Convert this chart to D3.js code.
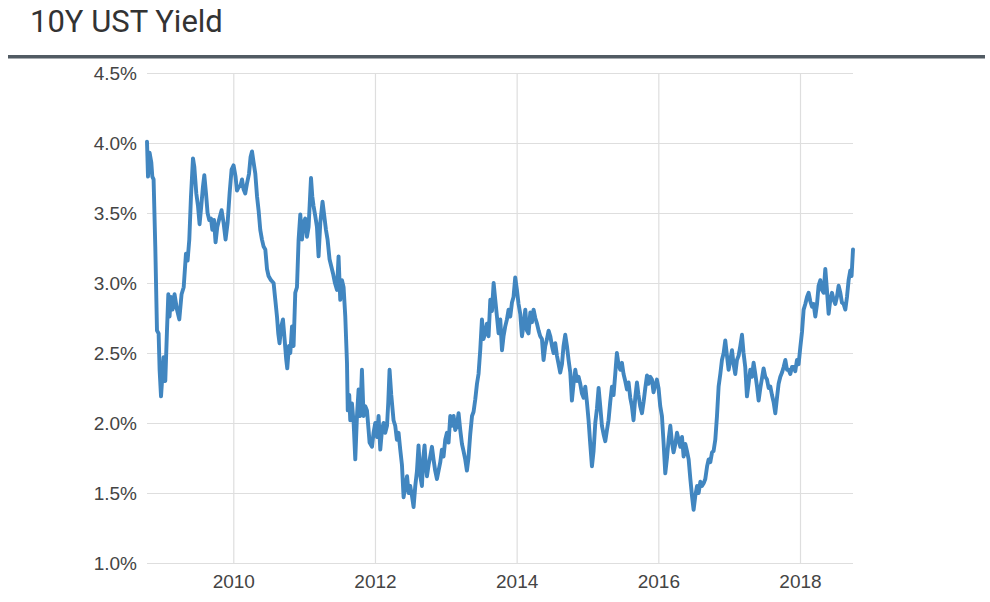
<!DOCTYPE html>
<html>
<head>
<meta charset="utf-8">
<script src="https://cdn.jsdelivr.net/npm/d3@7"></script>
<style>
  html, body { margin: 0; padding: 0; background: #fff; }
  svg { display: block; }
</style>
</head>
<body>
<svg id="chart" width="990" height="602"></svg>
<script>
// ---- data (decimal year, 10Y yield in %) ----
const years = [
2008.782,2008.796,2008.819,2008.843,2008.857,2008.875,2008.899,2008.923,2008.946,2008.960,2008.980,2008.998,
2009.016,2009.040,2009.064,2009.083,2009.100,2009.120,2009.143,2009.171,2009.205,2009.238,2009.270,2009.300,
2009.332,2009.355,2009.379,2009.403,2009.431,2009.450,2009.478,2009.502,2009.524,2009.548,2009.572,2009.591,
2009.615,2009.637,2009.661,2009.685,2009.704,2009.728,2009.750,2009.774,2009.798,2009.835,2009.863,2009.891,
2009.920,2009.948,2009.976,2010.004,2010.032,2010.052,2010.080,2010.099,2010.123,2010.145,2010.169,2010.193,
2010.222,2010.244,2010.264,2010.287,2010.311,2010.335,2010.357,2010.381,2010.405,2010.428,2010.452,2010.476,
2010.498,2010.532,2010.569,2010.593,2010.617,2010.635,2010.653,2010.677,2010.701,2010.724,2010.748,2010.762,
2010.786,2010.805,2010.829,2010.851,2010.875,2010.899,2010.922,2010.946,2010.970,2010.992,2011.016,2011.040,
2011.063,2011.097,2011.115,2011.133,2011.157,2011.181,2011.204,2011.228,2011.260,2011.284,2011.308,2011.331,
2011.359,2011.383,2011.407,2011.435,2011.464,2011.486,2011.510,2011.534,2011.557,2011.581,2011.605,2011.616,
2011.637,2011.651,2011.675,2011.699,2011.722,2011.746,2011.769,2011.792,2011.816,2011.839,2011.863,2011.887,
2011.910,2011.924,2011.958,2011.980,2012.004,2012.028,2012.051,2012.075,2012.099,2012.121,2012.145,2012.170,
2012.188,2012.206,2012.230,2012.262,2012.286,2012.310,2012.333,2012.357,2012.381,2012.404,2012.428,2012.453,
2012.475,2012.498,2012.522,2012.545,2012.569,2012.593,2012.615,2012.640,2012.663,2012.682,2012.700,2012.717,
2012.734,2012.757,2012.780,2012.804,2012.827,2012.850,2012.875,2012.898,2012.922,2012.945,2012.968,2012.992,
2013.016,2013.039,2013.063,2013.087,2013.110,2013.133,2013.157,2013.180,2013.204,2013.228,2013.250,2013.274,
2013.298,2013.320,2013.345,2013.370,2013.392,2013.416,2013.440,2013.462,2013.486,2013.510,2013.532,2013.556,
2013.580,2013.604,2013.628,2013.652,2013.675,2013.698,2013.722,2013.745,2013.769,2013.793,2013.815,2013.839,
2013.863,2013.886,2013.910,2013.934,2013.956,2013.980,2014.004,2014.027,2014.051,2014.075,2014.098,2014.122,
2014.145,2014.168,2014.193,2014.216,2014.239,2014.263,2014.287,2014.310,2014.333,2014.357,2014.380,2014.404,
2014.428,2014.451,2014.475,2014.499,2014.521,2014.545,2014.569,2014.592,2014.615,2014.640,2014.662,2014.686,
2014.710,2014.733,2014.757,2014.780,2014.803,2014.828,2014.852,2014.874,2014.898,2014.922,2014.945,2014.969,
2014.992,2015.015,2015.039,2015.063,2015.086,2015.110,2015.133,2015.157,2015.180,2015.204,2015.227,2015.251,
2015.275,2015.297,2015.321,2015.345,2015.368,2015.392,2015.415,2015.438,2015.462,2015.486,2015.509,2015.533,
2015.557,2015.580,2015.604,2015.627,2015.650,2015.674,2015.698,2015.720,2015.744,2015.769,2015.792,2015.816,
2015.840,2015.862,2015.886,2015.910,2015.932,2015.956,2015.980,2016.003,2016.027,2016.051,2016.075,2016.098,
2016.122,2016.145,2016.169,2016.193,2016.215,2016.240,2016.263,2016.286,2016.310,2016.334,2016.357,2016.381,
2016.404,2016.428,2016.452,2016.475,2016.498,2016.522,2016.546,2016.569,2016.593,2016.616,2016.640,2016.663,
2016.688,2016.710,2016.734,2016.758,2016.780,2016.804,2016.828,2016.851,2016.875,2016.898,2016.922,2016.945,
2016.969,2016.992,2017.016,2017.040,2017.062,2017.086,2017.110,2017.133,2017.157,2017.181,2017.203,2017.227,
2017.251,2017.274,2017.298,2017.322,2017.345,2017.369,2017.393,2017.416,2017.440,2017.463,2017.486,2017.510,
2017.534,2017.557,2017.581,2017.604,2017.627,2017.651,2017.675,2017.698,2017.722,2017.746,2017.769,2017.793,
2017.816,2017.839,2017.863,2017.887,2017.910,2017.933,2017.957,2017.980,2018.004,2018.028,2018.051,2018.075,
2018.099,2018.122,2018.145,2018.169,2018.192,2018.216,2018.240,2018.262,2018.286,2018.310,2018.333,2018.357,
2018.380,2018.404,2018.428,2018.451,2018.474,2018.498,2018.521,2018.545,2018.569,2018.592,2018.615,2018.640,
2018.663,2018.686,2018.710,2018.728,2018.748
];
const yields = [
4.01,3.76,3.93,3.86,3.76,3.74,3.26,2.66,2.64,2.38,2.19,2.33,
2.47,2.30,2.66,2.92,2.76,2.90,2.81,2.92,2.81,2.74,2.92,2.97,
3.21,3.16,3.31,3.62,3.89,3.83,3.64,3.55,3.42,3.55,3.69,3.77,
3.64,3.50,3.45,3.46,3.38,3.45,3.29,3.40,3.45,3.52,3.43,3.31,
3.43,3.64,3.81,3.84,3.76,3.66,3.69,3.69,3.74,3.67,3.64,3.71,
3.78,3.90,3.94,3.86,3.78,3.62,3.52,3.38,3.31,3.26,3.24,3.10,
3.05,3.02,3.00,2.88,2.76,2.64,2.57,2.69,2.74,2.60,2.45,2.39,
2.55,2.50,2.69,2.55,2.93,2.97,3.31,3.49,3.31,3.43,3.46,3.33,
3.40,3.75,3.62,3.55,3.48,3.40,3.19,3.43,3.58,3.48,3.38,3.31,
3.17,3.12,3.07,3.00,2.95,3.19,2.88,3.02,2.97,2.76,2.43,2.09,
2.20,2.02,2.14,2.00,1.74,2.05,2.24,2.05,2.38,2.05,2.12,2.09,
1.95,1.86,1.83,1.93,2.00,1.90,2.05,1.81,1.95,2.00,1.93,1.98,
2.15,2.38,2.20,2.02,1.98,1.88,1.93,1.81,1.70,1.47,1.55,1.62,
1.50,1.55,1.48,1.40,1.55,1.66,1.84,1.62,1.55,1.75,1.84,1.70,
1.62,1.70,1.76,1.83,1.74,1.66,1.60,1.66,1.72,1.81,1.76,1.88,
1.93,1.86,2.05,1.98,2.05,1.95,1.98,2.07,1.95,1.85,1.80,1.74,
1.66,1.75,1.92,2.05,2.08,2.17,2.28,2.35,2.52,2.74,2.60,2.64,
2.71,2.62,2.88,2.80,3.00,2.88,2.76,2.64,2.74,2.52,2.62,2.69,
2.74,2.81,2.76,2.86,2.90,3.04,2.95,2.85,2.78,2.62,2.70,2.81,
2.66,2.64,2.79,2.72,2.81,2.75,2.71,2.66,2.62,2.60,2.45,2.55,
2.60,2.66,2.62,2.55,2.50,2.57,2.48,2.42,2.36,2.42,2.55,2.63,
2.55,2.45,2.36,2.16,2.28,2.38,2.30,2.33,2.28,2.21,2.18,2.26,
2.15,2.02,1.85,1.69,1.80,2.00,2.10,2.25,2.12,1.98,1.92,1.87,
1.95,2.02,2.15,2.26,2.20,2.35,2.50,2.42,2.38,2.43,2.35,2.30,
2.24,2.29,2.18,2.12,2.02,2.18,2.29,2.20,2.12,2.07,2.15,2.25,
2.34,2.28,2.33,2.31,2.22,2.27,2.31,2.25,2.12,2.05,1.85,1.64,
1.75,1.88,1.98,1.86,1.79,1.85,1.93,1.88,1.83,1.90,1.76,1.85,
1.80,1.74,1.60,1.48,1.38,1.48,1.55,1.50,1.58,1.55,1.57,1.60,
1.69,1.74,1.72,1.79,1.80,1.88,2.05,2.26,2.35,2.45,2.50,2.59,
2.48,2.38,2.45,2.52,2.42,2.35,2.45,2.48,2.55,2.63,2.50,2.40,
2.19,2.28,2.38,2.33,2.43,2.35,2.26,2.16,2.25,2.32,2.39,2.33,
2.31,2.25,2.26,2.20,2.15,2.07,2.18,2.28,2.33,2.36,2.40,2.45,
2.38,2.38,2.35,2.40,2.40,2.37,2.45,2.42,2.54,2.65,2.81,2.85,
2.90,2.93,2.87,2.83,2.85,2.76,2.85,2.98,3.02,2.95,2.93,3.10,
2.95,2.78,2.88,2.93,2.88,2.85,2.90,2.98,2.93,2.86,2.85,2.81,
2.90,3.02,3.09,3.05,3.24
];
const yTicks = [1.0, 1.5, 2.0, 2.5, 3.0, 3.5, 4.0, 4.5];
const xTicks = [2010, 2012, 2014, 2016, 2018];
const title = "10Y UST Yield";

// ---- drawing ----
const svg = d3.select("#chart");
const plot = { left: 147, right: 853, top: 73, bottom: 563 };

const x = d3.scaleLinear().domain([d3.min(years), d3.max(years)]).range([plot.left, plot.right]);
const y = d3.scaleLinear().domain([1.0, 4.5]).range([plot.bottom, plot.top]);

// title
svg.append("text")
  .attr("x", 30).attr("y", 32)
  .attr("font-family", "Roboto, 'Open Sans', sans-serif")
  .attr("font-size", 31)
  .attr("fill", "#333")
  .text(title);

// rule under title
svg.append("rect")
  .attr("x", 8).attr("y", 55).attr("width", 977).attr("height", 3.5)
  .attr("fill", "#515b63");

// horizontal grid + y labels
const yAxis = d3.axisLeft(y).tickValues(yTicks)
  .tickSize(-(plot.right - plot.left))
  .tickPadding(10)
  .tickFormat(d => d3.format(".1f")(d) + "%");
const gy = svg.append("g").attr("transform", `translate(${plot.left},0)`).call(yAxis);
gy.select(".domain").remove();
gy.selectAll(".tick line").attr("stroke", "#dedede").attr("stroke-width", 1.2);
gy.selectAll(".tick text")
  .attr("x", 137 - plot.left)
  .attr("font-family", "'Liberation Sans', Arial, sans-serif")
  .attr("font-size", 19)
  .attr("fill", "#444");

// vertical grid + x labels
const xAxis = d3.axisBottom(x).tickValues(xTicks)
  .tickSize(-(plot.bottom - plot.top))
  .tickPadding(12)
  .tickFormat(d3.format("d"));
const gx = svg.append("g").attr("transform", `translate(0,${plot.bottom})`).call(xAxis);
gx.select(".domain").remove();
gx.selectAll(".tick line").attr("stroke", "#dedede").attr("stroke-width", 1.2);
gx.selectAll(".tick text")
  .attr("font-family", "'Liberation Sans', Arial, sans-serif")
  .attr("font-size", 19)
  .attr("fill", "#444");

// line
const data = years.map((t, i) => ({ t, v: yields[i] }));
const line = d3.line().x(d => x(d.t)).y(d => y(d.v));
svg.append("path")
  .datum(data)
  .attr("fill", "none")
  .attr("stroke", "#4186c0")
  .attr("stroke-width", 3.9)
  .attr("stroke-linejoin", "round")
  .attr("stroke-linecap", "round")
  .attr("d", line);
</script>
</body>
</html>
